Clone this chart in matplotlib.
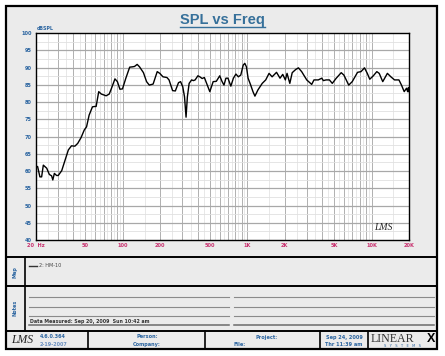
import numpy as np
import matplotlib
matplotlib.use("Agg")
import matplotlib.pyplot as plt
from matplotlib.patches import Rectangle

# response data (Hz, dB SPL)
freq = [20, 20.6, 21.5, 22.2, 22.9, 24.4, 25.6, 26.7, 27.3, 28.1, 29.3, 30.2,
        32.2, 34.3, 36.4, 38.6, 41.1, 43.3, 46.1, 48.9, 51, 53.5, 56.9, 59.1,
        60.9, 63.9, 67.1, 73.3, 77.6, 81, 86.3, 90.3, 94.6, 99.2, 105.6, 113.4,
        119.8, 124, 130.2, 136, 146.3, 155, 163, 175, 188.8, 198, 210, 226,
        235, 251, 264, 280, 291, 303, 313, 322, 330, 341, 357, 369, 381, 401,
        416, 434, 452, 471, 500, 532, 564, 601, 626, 650, 674, 700, 738, 774,
        811, 848, 887, 928, 956, 985, 1016, 1066, 1112, 1153, 1219, 1320, 1408,
        1498, 1585, 1720, 1835, 1930, 2025, 2090, 2200, 2300, 2450, 2580, 2740,
        3010, 3300, 3440, 3730, 3970, 4100, 4300, 4580, 4830, 5200, 5700, 5990,
        6550, 6990, 7710, 8220, 8770, 9240, 9670, 10330, 11020, 11520, 12300,
        13400, 14300, 15300, 16600, 17400, 18300, 19100, 19500, 19800, 20000]
spl = [61.3, 61.3, 58.3, 58.3, 61.7, 60.8, 59.0, 58.6, 57.4, 59.3, 58.7, 58.7,
       60.1, 63.2, 66.1, 67.3, 67.2, 68.0, 69.7, 71.9, 72.8, 76.2, 78.6, 78.7,
       78.7, 83.0, 82.3, 81.8, 82.3, 84.0, 86.7, 85.9, 83.7, 83.8, 86.9, 90.1,
       90.2, 90.3, 90.9, 90.2, 88.5, 85.9, 84.9, 85.2, 88.8, 88.3, 87.3, 87.1,
       86.4, 83.3, 83.2, 85.6, 85.9, 84.4, 81.5, 75.6, 81.5, 85.4, 86.4, 86.2,
       86.4, 87.6, 87.3, 86.8, 87.1, 85.4, 83.0, 85.9, 86.0, 87.6, 86.0, 84.9,
       86.9, 86.9, 84.6, 86.9, 88.1, 87.3, 87.8, 90.7, 91.2, 90.2, 86.9, 84.9,
       83.0, 81.7, 83.5, 85.4, 86.4, 88.3, 87.3, 88.6, 86.9, 88.0, 86.4, 88.3,
       85.4, 88.5, 89.4, 89.9, 88.8, 86.4, 85.1, 86.4, 86.4, 86.9, 86.2, 86.4,
       86.4, 85.4, 86.9, 88.5, 87.8, 84.9, 85.9, 88.6, 88.8, 89.9, 88.3, 86.6,
       87.6, 88.8, 88.3, 85.9, 88.3, 87.3, 86.4, 86.4, 84.9, 83.0, 84.0, 83.0,
       84.2, 83.0]

xtick_vals = [20, 50, 100, 200, 500, 1000, 2000, 5000, 10000, 20000]
xtick_labels = ["20  Hz", "50", "100", "200", "500", "1K", "2K", "5K", "10K", "20K"]
ytick_vals = list(range(40, 101, 5))

W, H = 445, 356
BLUE = "#2a64a0"
RED = "#c8306e"
BG = "#ebebeb"

fig = plt.figure(figsize=(W / 100, H / 100), dpi=100)
fig.patch.set_facecolor("white")


def px_axes(x0, y0, x1, y1, **kw):
    return fig.add_axes([x0 / W, 1 - y1 / H, (x1 - x0) / W, (y1 - y0) / H], **kw)


# page / frame layer
pg = px_axes(0, 0, W, H)
pg.set_xlim(0, W)
pg.set_ylim(H, 0)
pg.axis("off")
pg.add_patch(Rectangle((6, 6), 431, 343, facecolor=BG, edgecolor="black", lw=1.6))
for y in (257, 286, 331):
    pg.plot([6, 437], [y, y], color="black", lw=1.4)
pg.plot([24.5, 24.5], [257, 331], color="black", lw=1.2)
for x in (88, 205, 320, 368):
    pg.plot([x, x], [331, 349], color="black", lw=1.2)

pg.text(222, 20, "SPL vs Freq", ha="center", va="center", fontsize=10.5,
        fontweight="bold", color="#36709a", family="Liberation Sans")
pg.plot([180, 265], [26.5, 26.5], color="#36709a", lw=1.0)

# map panel
pg.text(15, 272, "Map", rotation=90, ha="center", va="center", fontsize=3.5,
        color=BLUE, fontweight="bold")
pg.plot([29, 37], [265.5, 265.5], color="#333333", lw=1.0)
pg.text(39, 265.5, "2: HM-10", ha="left", va="center", fontsize=3.5, color="#444444")

# notes panel
pg.text(15, 308, "Notes", rotation=90, ha="center", va="center", fontsize=3.5,
        color=BLUE, fontweight="bold")
for y in (297.3, 306.7, 315.7):
    pg.plot([29, 229], [y, y], color="#8a8a8a", lw=0.8)
    pg.plot([234, 434], [y, y], color="#8a8a8a", lw=0.8)
pg.plot([29, 229], [324.5, 324.5], color="#6a6a6a", lw=1.1)
pg.plot([234, 434], [324.5, 324.5], color="#6a6a6a", lw=1.1)
pg.text(30, 321.5, "Data Measured: Sep 20, 2009  Sun 10:42 am", ha="left",
        va="center", fontsize=3.4, color="#333333", fontweight="bold")

# footer
pg.text(11, 340, "LMS", ha="left", va="center", fontsize=8.5, style="italic",
        family="Liberation Serif", color="#222222")
pg.text(40, 337, "4.6.0.364", ha="left", va="center", fontsize=3.5,
        color=BLUE, fontweight="bold")
pg.text(40, 344.5, "2-19-2007", ha="left", va="center", fontsize=3.5,
        color="#6a8fc0", fontweight="bold")
pg.text(147, 337, "Person:", ha="center", va="center", fontsize=3.6,
        color=BLUE, fontweight="bold")
pg.text(147, 344.5, "Company:", ha="center", va="center", fontsize=3.6,
        color=BLUE, fontweight="bold")
pg.text(267, 337, "Project:", ha="center", va="center", fontsize=3.6,
        color=BLUE, fontweight="bold")
pg.text(240, 344.5, "File:", ha="center", va="center", fontsize=3.6,
        color=BLUE, fontweight="bold")
pg.text(344, 337, "Sep 24, 2009", ha="center", va="center", fontsize=3.6,
        color=BLUE, fontweight="bold")
pg.text(344, 344.5, "Thr 11:39 am", ha="center", va="center", fontsize=3.6,
        color=BLUE, fontweight="bold")
pg.text(371, 338.5, "LINEAR", ha="left", va="center", fontsize=8.6,
        family="Liberation Serif", color="#333333")
pg.text(435, 338.5, "X", ha="right", va="center", fontsize=9,
        family="Liberation Sans", fontweight="bold", color="black")
pg.text(403, 346, "S   Y   S   T   E   M   S", ha="center", va="center",
        fontsize=2.6, color=BLUE)

# chart
ax = px_axes(36, 33, 409, 240)
ax.set_facecolor("white")
ax.set_xscale("log")
ax.set_xlim(20, 20000)
ax.set_ylim(40, 100)

major_v = [m * 10 ** d for d in range(1, 5) for m in range(1, 10)]
minor_v = [(m + 0.5) * 10 ** d for d in range(1, 5) for m in range(1, 10)]
for v in minor_v:
    if 20 < v < 20000:
        ax.axvline(v, color="#e4e4e4", lw=0.6, zorder=1)
for v in major_v:
    if 20 < v < 20000:
        ax.axvline(v, color="#a4a4a4", lw=0.6, zorder=1)
for v in np.arange(42.5, 100, 5):
    ax.axhline(v, color="#e0e0e0", lw=0.6, zorder=1)
for v in ytick_vals[1:-1]:
    ax.axhline(v, color="#a8a8a8", lw=0.9, zorder=1)

ax.plot(freq, spl, color="black", lw=1.0, zorder=3)

ax.set_xticks(xtick_vals)
ax.set_xticklabels(xtick_labels)
ax.xaxis.set_minor_locator(matplotlib.ticker.NullLocator())
ax.set_yticks(ytick_vals)
ax.tick_params(axis="x", length=0, pad=2, labelsize=3.6, labelcolor=RED)
ax.tick_params(axis="y", length=0, pad=3, labelsize=3.6, labelcolor=BLUE)
for lab in ax.get_xticklabels() + ax.get_yticklabels():
    lab.set_fontweight("bold")
for s in ax.spines.values():
    s.set_linewidth(1.0)
    s.set_color("black")

ax.text(0.003, 1.012, "dBSPL", transform=ax.transAxes, ha="left", va="bottom",
        fontsize=3.4, color=BLUE, fontweight="bold")
ax.text(0.955, 0.04, "LMS", transform=ax.transAxes, ha="right", va="bottom",
        fontsize=7, style="italic", family="Liberation Serif", color="#222222")

fig.savefig("out.png", dpi=100, facecolor=fig.get_facecolor())
